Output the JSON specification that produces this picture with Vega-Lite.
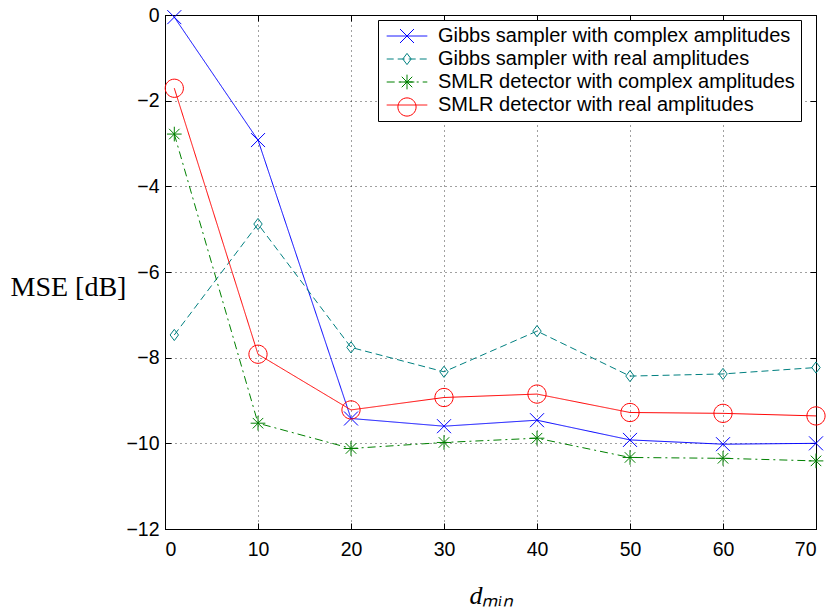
{
  "$schema": "https://vega.github.io/schema/vega-lite/v6.json",
  "width": 651,
  "height": 514,
  "autosize": "none",
  "padding": {"left": 165, "top": 15, "right": 12, "bottom": 83},
  "background": "white",
  "config": {
    "view": {"stroke": "black", "strokeWidth": 1},
    "axis": {
      "labelFont": "Liberation Sans",
      "labelFontSize": 19.5,
      "labelColor": "black",
      "domainColor": "black",
      "tickColor": "black",
      "tickSize": -6,
      "gridColor": "black",
      "gridDash": [1, 4],
      "gridOpacity": 0.75,
      "gridWidth": 1
    }
  },
  "data": {
    "values": [
      {"x": 1, "y": -0.05, "series": "Gibbs sampler with complex amplitudes"},
      {"x": 10, "y": -2.92, "series": "Gibbs sampler with complex amplitudes"},
      {"x": 20, "y": -9.42, "series": "Gibbs sampler with complex amplitudes"},
      {"x": 30, "y": -9.6, "series": "Gibbs sampler with complex amplitudes"},
      {"x": 40, "y": -9.46, "series": "Gibbs sampler with complex amplitudes"},
      {"x": 50, "y": -9.92, "series": "Gibbs sampler with complex amplitudes"},
      {"x": 60, "y": -10.02, "series": "Gibbs sampler with complex amplitudes"},
      {"x": 70, "y": -10.0, "series": "Gibbs sampler with complex amplitudes"},
      {"x": 1, "y": -7.47, "series": "Gibbs sampler with real amplitudes"},
      {"x": 10, "y": -4.88, "series": "Gibbs sampler with real amplitudes"},
      {"x": 20, "y": -7.76, "series": "Gibbs sampler with real amplitudes"},
      {"x": 30, "y": -8.33, "series": "Gibbs sampler with real amplitudes"},
      {"x": 40, "y": -7.38, "series": "Gibbs sampler with real amplitudes"},
      {"x": 50, "y": -8.43, "series": "Gibbs sampler with real amplitudes"},
      {"x": 60, "y": -8.38, "series": "Gibbs sampler with real amplitudes"},
      {"x": 70, "y": -8.23, "series": "Gibbs sampler with real amplitudes"},
      {"x": 1, "y": -2.78, "series": "SMLR detector with complex amplitudes"},
      {"x": 10, "y": -9.53, "series": "SMLR detector with complex amplitudes"},
      {"x": 20, "y": -10.12, "series": "SMLR detector with complex amplitudes"},
      {"x": 30, "y": -9.98, "series": "SMLR detector with complex amplitudes"},
      {"x": 40, "y": -9.88, "series": "SMLR detector with complex amplitudes"},
      {"x": 50, "y": -10.33, "series": "SMLR detector with complex amplitudes"},
      {"x": 60, "y": -10.35, "series": "SMLR detector with complex amplitudes"},
      {"x": 70, "y": -10.41, "series": "SMLR detector with complex amplitudes"},
      {"x": 1, "y": -1.71, "series": "SMLR detector with real amplitudes"},
      {"x": 10, "y": -7.92, "series": "SMLR detector with real amplitudes"},
      {"x": 20, "y": -9.22, "series": "SMLR detector with real amplitudes"},
      {"x": 30, "y": -8.93, "series": "SMLR detector with real amplitudes"},
      {"x": 40, "y": -8.85, "series": "SMLR detector with real amplitudes"},
      {"x": 50, "y": -9.28, "series": "SMLR detector with real amplitudes"},
      {"x": 60, "y": -9.3, "series": "SMLR detector with real amplitudes"},
      {"x": 70, "y": -9.36, "series": "SMLR detector with real amplitudes"}
    ]
  },
  "layer": [
    {
      "mark": {"type": "line", "strokeWidth": 1, "clip": true},
      "encoding": {
        "x": {
          "field": "x", "type": "quantitative",
          "scale": {"domain": [0, 70], "nice": false, "zero": false},
          "axis": {
            "orient": "bottom",
            "values": [0, 10, 20, 30, 40, 50, 60, 70],
            "grid": true,
            "labelPadding": 17,
            "title": "dₘᵢₙ",
            "titleFont": "Liberation Serif",
            "titleFontStyle": "italic",
            "titleFontWeight": "normal",
            "titleFontSize": 26,
            "titleColor": "black",
            "titlePadding": 24
          }
        },
        "y": {
          "field": "y", "type": "quantitative",
          "scale": {"domain": [-12, 0], "nice": false, "zero": false},
          "axis": {
            "orient": "left",
            "values": [-12, -10, -8, -6, -4, -2, 0],
            "grid": true,
            "labelPadding": 12,
            "title": "MSE [dB]",
            "titleFont": "Liberation Serif",
            "titleFontWeight": "normal",
            "titleFontSize": 28,
            "titleColor": "black",
            "titleAngle": 0,
            "titleAlign": "right",
            "titleBaseline": "middle",
            "titleY": 272,
            "titlePadding": 0
          }
        },
        "color": {
          "field": "series", "type": "nominal",
          "scale": {
            "domain": ["Gibbs sampler with complex amplitudes", "Gibbs sampler with real amplitudes", "SMLR detector with complex amplitudes", "SMLR detector with real amplitudes"],
            "range": ["#0000ff", "#008080", "#008000", "#ff0000"]
          },
          "legend": {
            "orient": "none", "legendX": 213, "legendY": 5, "title": null,
            "symbolType": "M-2.9,0L2.9,0", "symbolSize": 196, "symbolStrokeWidth": 1,
            "labelFont": "Liberation Sans", "labelFontSize": 20, "labelColor": "black", "labelLimit": 500,
            "fillColor": "white", "strokeColor": "black", "padding": 6,
            "rowPadding": 3, "symbolOffset": 13, "labelOffset": 21, "zindex": 1
          }
        },
        "strokeDash": {
          "field": "series", "type": "nominal",
          "scale": {
            "domain": ["Gibbs sampler with complex amplitudes", "Gibbs sampler with real amplitudes", "SMLR detector with complex amplitudes", "SMLR detector with real amplitudes"],
            "range": [[1, 0], [7, 4], [8, 4, 2, 4], [1, 0]]
          },
          "legend": {
            "orient": "none", "legendX": 213, "legendY": 5, "title": null,
            "symbolType": "M-2.9,0L2.9,0", "symbolSize": 196, "symbolStrokeWidth": 1,
            "labelFont": "Liberation Sans", "labelFontSize": 20, "labelColor": "black", "labelLimit": 500,
            "fillColor": "white", "strokeColor": "black", "padding": 6,
            "rowPadding": 3, "symbolOffset": 13, "labelOffset": 21, "zindex": 1
          }
        }
      }
    },
    {
      "mark": {"type": "point", "filled": false, "strokeWidth": 1, "size": 196, "opacity": 1, "clip": false},
      "encoding": {
        "x": {
          "field": "x", "type": "quantitative",
          "scale": {"domain": [0, 70], "nice": false, "zero": false},
          "axis": {"orient": "top", "values": [0, 10, 20, 30, 40, 50, 60, 70], "grid": false, "labels": false, "title": null, "domain": false}
        },
        "y": {
          "field": "y", "type": "quantitative",
          "scale": {"domain": [-12, 0], "nice": false, "zero": false},
          "axis": {"orient": "right", "values": [-12, -10, -8, -6, -4, -2, 0], "grid": false, "labels": false, "title": null, "domain": false}
        },
        "color": {
          "field": "series", "type": "nominal",
          "scale": {
            "domain": ["Gibbs sampler with complex amplitudes", "Gibbs sampler with real amplitudes", "SMLR detector with complex amplitudes", "SMLR detector with real amplitudes"],
            "range": ["#0000ff", "#008080", "#008000", "#ff0000"]
          },
          "legend": {
            "orient": "none", "legendX": 213, "legendY": 5, "title": null,
            "symbolSize": 196, "symbolStrokeWidth": 1,
            "labelFont": "Liberation Sans", "labelFontSize": 20, "labelColor": "transparent", "labelExpr": "''",
            "fillColor": null, "strokeColor": null, "padding": 6,
            "rowPadding": 3, "symbolOffset": 13, "labelOffset": 21, "zindex": 2
          }
        },
        "shape": {
          "field": "series", "type": "nominal",
          "scale": {
            "domain": ["Gibbs sampler with complex amplitudes", "Gibbs sampler with real amplitudes", "SMLR detector with complex amplitudes", "SMLR detector with real amplitudes"],
            "range": [
              "M-1,-1L1,1M-1,1L1,-1",
              "M0,-0.8L0.6,0L0,0.8L-0.6,0Z",
              "M-1.05,0L1.05,0M0,-1.05L0,1.05M-0.75,-0.75L0.75,0.75M-0.75,0.75L0.75,-0.75",
              "M1.3,0A1.3,1.3,0,1,1,-1.3,0A1.3,1.3,0,1,1,1.3,0Z"
            ]
          },
          "legend": {
            "orient": "none", "legendX": 213, "legendY": 5, "title": null,
            "symbolSize": 196, "symbolStrokeWidth": 1,
            "labelFont": "Liberation Sans", "labelFontSize": 20, "labelColor": "transparent", "labelExpr": "''",
            "fillColor": null, "strokeColor": null, "padding": 6,
            "rowPadding": 3, "symbolOffset": 13, "labelOffset": 21, "zindex": 2
          }
        }
      }
    }
  ],
  "resolve": {
    "scale": {"color": "independent", "shape": "independent", "strokeDash": "independent"},
    "legend": {"color": "independent", "shape": "independent", "strokeDash": "independent"},
    "axis": {"x": "independent", "y": "independent"}
  }
}
